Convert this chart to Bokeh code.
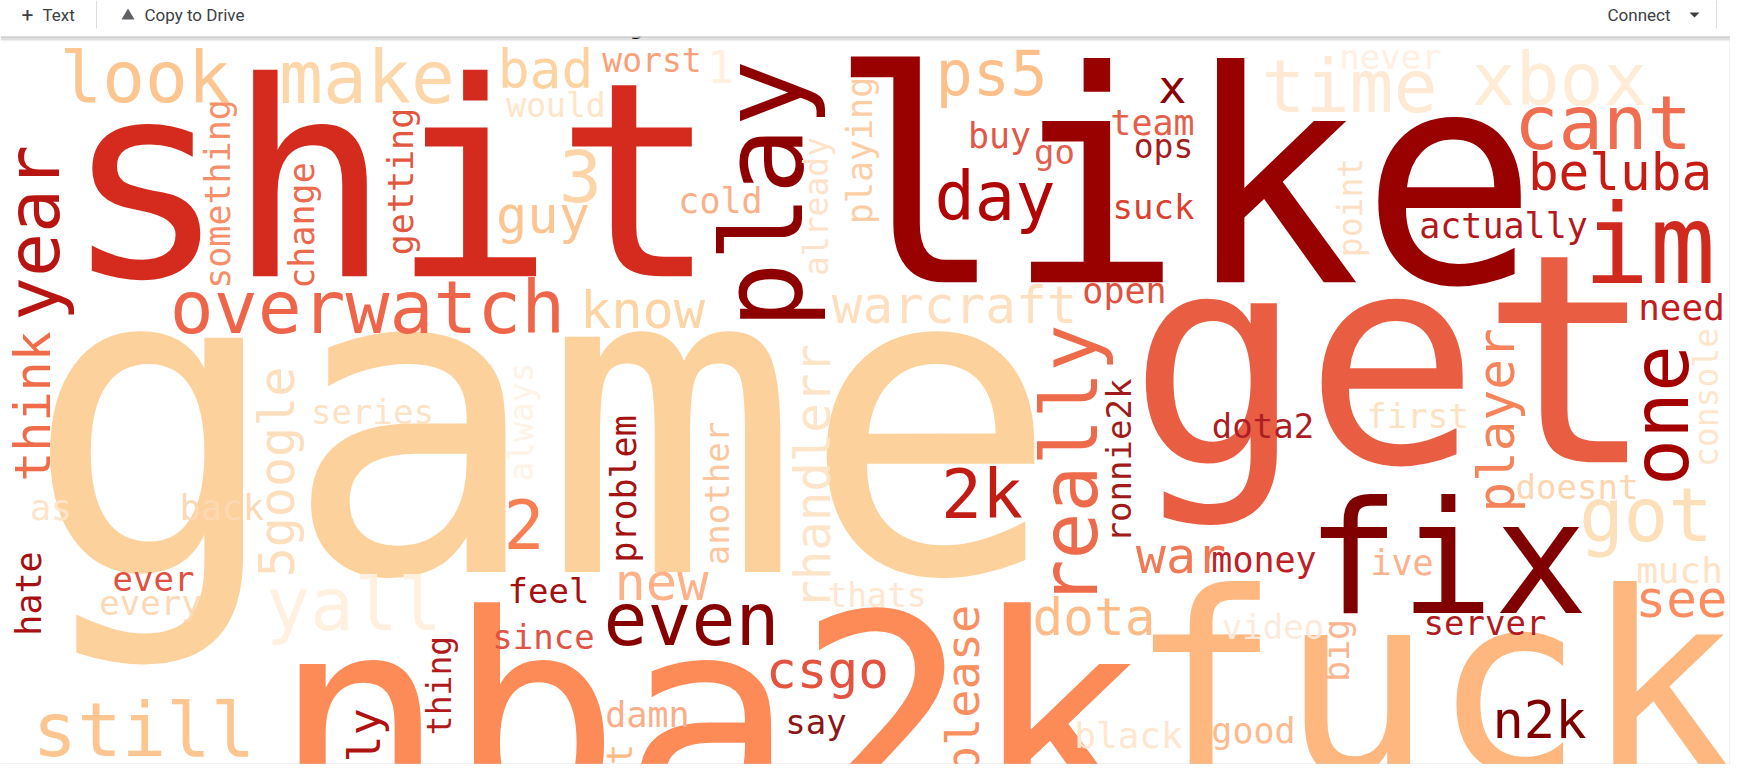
from math import pi
from bokeh.plotting import figure
from bokeh.models import ColumnDataSource, Range1d
from bokeh.core.properties import value
from bokeh.embed import file_html
from bokeh.resources import INLINE

W, H = 1746, 780
PW, PH = W - 16, H - 16     # figure size

# word cloud data: words and their relative weights
words = [
    "game", "like", "get", "nba2k", "shit", "fuck", "fix", "play", "im",
    "one", "really", "cant", "got", "still", "year", "overwatch", "time",
    "xbox", "yall", "even", "make", "3", "look", "2k", "2", "day", "ps5",
    "bad", "guy", "know", "new", "n2k", "beluba", "warcraft", "see", "dota",
    "csgo", "player", "think", "5google", "war", "rhandlerr", "please", "x",
    "totaly", "1", "need", "much", "black",
    "cold", "team", "buy", "actually", "open", "money", "ive", "good", "damn",
    "as", "back", "something", "change", "getting", "playing", "problem",
    "hate", "big", "lot",
    "go", "suck", "never", "dota2", "first", "doesnt", "server", "video",
    "say", "feel", "since", "series", "ever", "every", "ronnie2k", "another",
    "would", "worst", "ops", "thats", "already", "point", "console", "always",
    "thing",
]
weight = [
    430, 295, 292, 290, 272, 252, 156, 112, 110,
    78, 78, 74, 74, 74, 73, 73, 73,
    73, 73, 73, 73, 72, 71, 68, 68, 67, 62,
    53, 52, 52, 52, 52, 51, 51, 51, 51,
    51, 51, 50, 50, 50, 49, 47, 47,
    45, 44, 36, 36, 36,
    35, 35, 35, 35, 35, 35, 35, 35, 35,
    35, 35, 35, 35, 35, 35, 35,
    35, 35, 35,
    34, 34, 34, 34, 34, 34, 34, 34,
    34, 34, 34, 34, 34, 34, 34, 34,
    33, 33, 33, 33, 33, 33, 33, 33,
    33,
]
colors = [
    "#fdd19b", "#990000", "#e95e43", "#fc8b58", "#d42b1e", "#fdb77f", "#800000", "#8e0000", "#d0291d",
    "#a50000", "#ed6a4a", "#f06e50", "#fddfb9", "#fdc690", "#b81512", "#ee6549", "#fee9d4",
    "#feecd6", "#fff0e0", "#860000", "#fdd7a9", "#fdd5a8", "#fdc58f", "#c11d15", "#f87f52", "#b20606", "#fdc08b",
    "#fdd3a2", "#fdc592", "#fdd4a4", "#fdb28a", "#800000", "#c61c14", "#fee0c0", "#fc8d60", "#fdbc88",
    "#e3533f", "#f5845b", "#f16c4b", "#fddebd", "#f07a56", "#fee4c9", "#fa9060", "#8b0000",
    "#b0120f", "#fff0e0", "#c31c1e", "#fee2c4", "#fee6cf",
    "#fbb08a", "#e4604a", "#e05848", "#b3181c", "#de5244", "#bd2026", "#fbb18c", "#fcbb8e", "#fbad88",
    "#fee4c9", "#fdd8b4", "#f6906b", "#ec6a4d", "#e3573f", "#fdcea5", "#a51212",
    "#a80f12", "#fbb591", "#fdbb84",
    "#e36050", "#d9412e", "#fff0e2", "#ad1e24", "#fde2c2", "#fdd5b0", "#b01a1e", "#feeadb",
    "#8c1616", "#a41010", "#e05344", "#fee2c5", "#e05040", "#fdd8b5", "#a11b1b", "#fcc7a0",
    "#fee5c8", "#f8a07a", "#a31d1d", "#fee6d0", "#fee3ca", "#fee1c4", "#fee6cc", "#fff2e6",
    "#b2191c",
]

# layout of the cloud: screen pixels (y downwards); horizontal words give the
# centre x and the baseline y, vertical words the baseline x and the centre y
pos_x = [
    541.5, 1182.5, 1391.5, 708, 390.5, 1432, 1446.5, 802, 1649,
    1688, 1097, 1602.5, 1645.5, 143.5, 59, 367, 1349,
    1559, 353.5, 691, 366.5, 580, 144.5, 981.5, 523.5, 994.5, 991,
    545, 542.5, 642, 661, 1539, 1619.5, 954, 1681, 1093.5,
    827, 1514, 50, 294, 1180.5, 830, 978, 1172,
    380, 720, 1681, 1679, 1128,
    720, 1152, 999, 1503, 1124, 1263.5, 1401.5, 1253, 647,
    50.5, 221.5, 230, 314, 413, 872, 636,
    41, 1349, 632,
    1054, 1153, 1390, 1262.5, 1417, 1576.5, 1484.5, 1272.5,
    815.5, 548, 543, 372, 153, 150, 1130, 728,
    555.5, 651.5, 1163, 876.5, 828, 1362, 1718, 533,
    451,
]
pos_y = [
    573, 283, 463, 823, 277, 772, 613, 194, 283,
    415, 465, 148, 540, 755, 232.5, 333, 112,
    105, 630, 645, 103, 200, 102, 518, 547, 220, 95,
    88, 233, 328, 600, 738, 190, 323, 617, 635,
    688, 420, 406, 471.5, 573, 476.5, 689, 102,
    789, 81, 320, 583, 748,
    213, 135, 148, 238, 303, 572, 575, 743, 727,
    520, 520, 193.5, 225, 181, 150, 488.5,
    593, 650, 775,
    163, 218, 68, 437, 427, 498, 634, 638,
    733, 602, 648, 423, 590, 614, 460, 493,
    117, 72, 158, 607, 206, 207, 397, 421.5,
    685,
]
vertical = {
    "play", "one", "really", "year", "player", "think", "5google", "rhandlerr",
    "please", "totaly", "something", "change", "getting", "playing", "problem",
    "hate", "big", "lot", "ronnie2k", "another", "already", "point", "console",
    "always", "thing",
}

MAX_FONT = 430
SHIFT = 0.35               # anchor offset above the baseline, in em
scale = MAX_FONT / max(weight)

xs, ys, angles, sizes = [], [], [], []
for w, v, px, py in zip(words, weight, pos_x, pos_y):
    fs = v * scale
    if w in vertical:
        xs.append(px - SHIFT * fs)
        ys.append(H - py)
        angles.append(pi / 2)
    else:
        xs.append(px)
        ys.append(H - (py - SHIFT * fs))
        angles.append(0)
    sizes.append(f"{fs:.1f}px")

src = ColumnDataSource(dict(word=words, x=xs, y=ys, angle=angles, size=sizes, color=colors))

p = figure(
    width=PW, height=PH,
    x_range=Range1d(0, PW), y_range=Range1d(H - PH, H),
    output_backend="svg", toolbar_location=None,
    x_axis_location=None, y_axis_location=None,
    min_border=0, outline_line_color=None,
    background_fill_color="white", border_fill_color="white",
)
p.grid.visible = False

p.text(x="x", y="y", text="word", angle="angle", text_color="color",
       text_font_size="size", text_font=value("DejaVu Sans Mono"),
       text_align="center", text_baseline="alphabetic", source=src)

# tail of a caption hidden under the notebook toolbar
p.text(x=[636], y=[H - 35 + SHIFT * 22], text=["g"], text_color="black",
       text_font_size="22px", text_font=value("DejaVu Sans"),
       text_align="center", text_baseline="alphabetic")

# notebook chrome around the output image
p.quad(left=0, right=W, bottom=H - 36, top=H + 10, fill_color="white", line_color=None)
p.segment(x0=0, y0=H - 36.5, x1=W, y1=H - 36.5, line_color="#d2d2d2", line_width=1.5)
for i, a in enumerate([0.10, 0.06, 0.03]):
    p.quad(left=0, right=W, bottom=H - 39 - i, top=H - 37 - i, fill_color="#000000",
           fill_alpha=a, line_color=None)
p.quad(left=0, right=W, bottom=0, top=H - 764, fill_color="white", line_color=None)
p.segment(x0=0, y0=H - 764, x1=W, y1=H - 764, line_color="#cfcfcf", line_width=1.5)
p.segment(x0=1729.5, y0=H - 764, x1=1729.5, y1=H - 40, line_color="#e0e0e0", line_width=1)

p.segment(x0=[96, 1716], y0=[H, H], x1=[96, 1716], y1=[H - 28, H - 28],
          line_color="#dadce0", line_width=1)
p.text(x=[27], y=[H - 14], text=["+"], text_font=value("Roboto"), text_font_size="21px",
       text_color="#3c4043", text_align="center", text_baseline="middle")
p.text(x=[42, 144, 1607], y=[H - 14, H - 14, H - 14], text=["Text", "Copy to Drive", "Connect"],
       text_font=value("Roboto"), text_font_size="17px", text_color="#3c4043",
       text_align="left", text_baseline="middle")
p.patch(x=[121, 127.5, 134], y=[H - 19, H - 8, H - 19], fill_color="#5f6368", line_color=None)
p.patch(x=[1689, 1699, 1694], y=[H - 12, H - 12, H - 17], fill_color="#3c4043", line_color=None)

open("out.html", "w").write(file_html(p, INLINE))
